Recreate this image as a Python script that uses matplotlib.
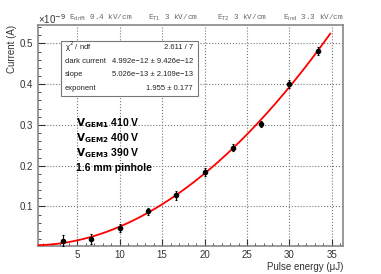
import numpy as np
import matplotlib
matplotlib.use("Agg")
import matplotlib.pyplot as plt
from matplotlib.patches import Rectangle
from matplotlib.ticker import MultipleLocator

plt.rcParams['font.family'] = ['Liberation Sans', 'DejaVu Sans']

# --- data (current in units of 1e-9 A) ---
energy = [3.33, 6.67, 10.0, 13.33, 16.67, 20.0, 23.33, 26.67, 30.0, 33.33]
current = [0.016, 0.021, 0.047, 0.088, 0.127, 0.185, 0.244, 0.302, 0.400, 0.481]
current_err = [0.013, 0.012, 0.010, 0.008, 0.011, 0.010, 0.009, 0.008, 0.010, 0.010]

# fit parameters: dark + slope * E^exponent
dark = 4.992e-12
slope = 5.026e-13
expo = 1.955

stat_rows = [("\u03c7$^2$ / ndf", "2.611 / 7"),
             ("dark current", "4.992e\u221212 \u00b1 9.426e\u221212"),
             ("slope", "5.026e\u221213 \u00b1 2.109e\u221213"),
             ("exponent", "1.955 \u00b1 0.177")]
gem_lines = [r"$\mathbf{V_{GEM1}}$ 410 V", r"$\mathbf{V_{GEM2}}$ 400 V",
             r"$\mathbf{V_{GEM3}}$ 390 V", "1.6 mm pinhole"]
field_labels = [("E$_{\\mathrm{drift}}$ 0.4 kV/cm", 69),
                ("E$_{\\mathrm{T1}}$ 3 kV/cm", 148),
                ("E$_{\\mathrm{T2}}$ 3 kV/cm", 217),
                ("E$_{\\mathrm{ind}}$ 3.3 kV/cm", 283)]

W, H = 381, 274
fig = plt.figure(figsize=(W / 100, H / 100), dpi=100)
ax = fig.add_axes([38 / W, 1 - 246 / H, (343 - 38) / W, (246 - 25) / H])

xf = np.linspace(0.4, 34.8, 300)
yf = (dark + slope * xf ** expo) * 1e9
ax.plot(xf, yf, color='red', lw=1.3, zorder=3)
ax.errorbar(energy, current, yerr=current_err, fmt='o', color='black',
            ms=3, elinewidth=0.8, capsize=1, capthick=0.8, zorder=4)

ax.set_xlim(0.4, 36.3)
ax.set_ylim(0.003, 0.545)
ax.xaxis.set_major_locator(MultipleLocator(5))
ax.xaxis.set_minor_locator(MultipleLocator(1))
ax.yaxis.set_major_locator(MultipleLocator(0.1))
ax.yaxis.set_minor_locator(MultipleLocator(0.02))
ax.set_xticks([5, 10, 15, 20, 25, 30, 35])
ax.set_yticks([0.1, 0.2, 0.3, 0.4, 0.5])
ax.set_yticklabels(["0.1", "0.2", "0.3", "0.4", "0.5"])
ax.tick_params(which='both', direction='in', labelsize=7, colors='#333333',
               top=False, right=False)
ax.tick_params(which='major', length=5, width=0.8)
ax.tick_params(which='minor', length=2.5, width=0.6)
ax.tick_params(axis='x', pad=3)
ax.grid(True, which='major', ls=':', color='#777777', lw=0.8)
for s in ax.spines.values():
    s.set_color('#888888')
    s.set_linewidth(1.2)

ax.set_xlabel("Pulse energy (\u03bcJ)", fontsize=7, color='#333333', loc='right', labelpad=1)
fig.text(12 / W, 1 - 25 / H, "Current (A)", fontsize=7, color='#333333',
         rotation=90, ha='center', va='top')

fig.text(38 / W, 1 - 19 / H, "\u00d710$^{-9}$", fontsize=7, color='#333333',
         va='center', ha='left')
for lab, px in field_labels:
    fig.text(px / W, 1 - 18 / H, lab, fontsize=5.5, color='#666666',
             family='Liberation Mono', va='center', ha='left')

# stat box
fig.patches.append(Rectangle((61 / W, 1 - 96 / H), (198 - 61) / W, (96 - 41) / H,
                             transform=fig.transFigure, facecolor='white',
                             edgecolor='#777777', lw=0.8, zorder=5))
row_y = [47, 61.5, 74.5, 88]
for (name, val), ry in zip(stat_rows, row_y):
    fig.text(65 / W, 1 - ry / H, name, fontsize=5.5, color='#222222',
             va='center', ha='left', zorder=6)
    fig.text(193 / W, 1 - ry / H, val, fontsize=5.5, color='#222222',
             va='center', ha='right', zorder=6)

gem_y = [123, 138.5, 153, 168]
for txt, gy in zip(gem_lines, gem_y):
    fig.text(76 / W, 1 - gy / H, txt, fontsize=7.5, fontweight='bold',
             color='black', va='center', ha='left')

fig.savefig("out.png", dpi=100)
